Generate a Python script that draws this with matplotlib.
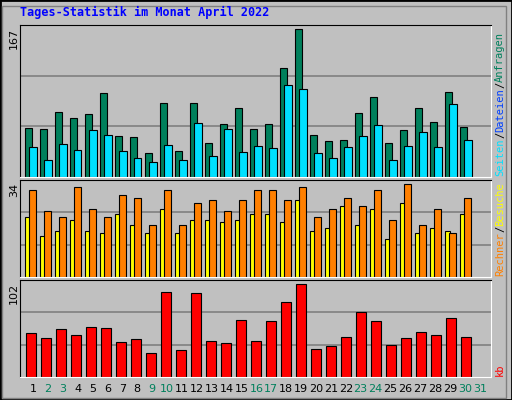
import matplotlib
matplotlib.use("Agg")
import matplotlib.pyplot as plt
from matplotlib.patches import Rectangle

W, H = 512, 400

days = list(range(1, 31))
weekend = [2, 3, 9, 10, 16, 17, 23, 24, 30, 31]
hits = [55, 54, 74, 67, 71, 95, 46, 45, 27, 84, 29, 84, 39, 60, 78,
        54, 60, 123, 167, 47, 41, 42, 72, 91, 38, 53, 78, 62, 96, 57]
pages = [34, 19, 37, 30, 53, 47, 29, 22, 17, 36, 19, 61, 24, 54, 28,
         35, 33, 104, 100, 27, 21, 34, 46, 59, 19, 35, 51, 34, 83, 42]
visits = [22, 15, 17, 21, 17, 16, 23, 19, 16, 25, 16, 21, 21, 20, 21,
          23, 23, 20, 28, 17, 18, 26, 19, 25, 14, 27, 16, 18, 17, 23]
sites = [32, 24, 22, 33, 25, 22, 30, 29, 19, 32, 19, 27, 28, 24, 28,
         32, 32, 28, 33, 22, 25, 29, 26, 32, 21, 34, 19, 25, 16, 29]
kbytes = [48, 43, 52, 46, 55, 54, 38, 41, 26, 93, 30, 92, 39, 37, 62,
          39, 61, 82, 102, 31, 34, 44, 71, 61, 35, 43, 49, 46, 64, 44]

C_HITS, C_PAGES, C_FILES = "#00805C", "#00E0FF", "#0040FF"
C_VISITS, C_SITES, C_KB = "#FFFF00", "#FF8000", "#FF0000"
BG = "#C0C0C0"

fig = plt.figure(figsize=(W / 100, H / 100), dpi=100, facecolor=BG)

# 3D-ish outer border
fig.patches.append(Rectangle((0, 0), 1, 1, transform=fig.transFigure,
                             fill=False, edgecolor="black", lw=2))
fig.patches.append(Rectangle((2 / W, 2 / H), 1 - 8 / W, 1 - 8 / H, transform=fig.transFigure,
                             fill=False, edgecolor="#808080", lw=1))


def panel(top, bottom, ymax):
    ax = fig.add_axes([20 / W, 1 - bottom / H, 471 / W, (bottom - top) / H])
    ax.set_facecolor(BG)
    ax.set_xlim(0, 31.4)
    ax.set_ylim(0, ymax)
    for f in (1 / 3, 2 / 3):
        ax.axhline(ymax * f, color="#808080", lw=1.2, zorder=0)
    ax.set_xticks([])
    ax.set_yticks([])
    for s in ("top", "left"):
        ax.spines[s].set_color("black")
    for s in ("bottom", "right"):
        ax.spines[s].set_color("white")
    return ax


x = [d - 1 for d in days]
kw = dict(edgecolor="black", linewidth=0.8, align="edge")

ax1 = panel(25, 177, 172)
ax1.bar([v + 0.33 for v in x], hits, 0.5, color=C_HITS, **kw)
ax1.bar([v + 0.63 for v in x], pages, 0.47, color=C_PAGES, **kw)

ax2 = panel(180, 277, 35.5)
ax2.bar([v + 0.35 for v in x], visits, 0.3, color=C_VISITS, **kw)
ax2.bar([v + 0.62 for v in x], sites, 0.47, color=C_SITES, **kw)

ax3 = panel(280, 377, 106)
ax3.bar([v + 0.42 for v in x], kbytes, 0.66, color=C_KB, **kw)

# day labels
for d in range(1, 32):
    fig.text((20 + (d - 1 + 0.87) * 15 * 0.993) / W, 1 - 389 / H, str(d),
             ha="center", va="center", fontsize=8,
             color=C_HITS if d in weekend else "black")

fig.text(20 / W, 1 - 12 / H, "Tages-Statistik im Monat April 2022",
         family="DejaVu Sans Mono", weight="bold", fontsize=8.5,
         color="#0000FF", ha="left", va="center")

for top, lab in ((28, str(max(hits))), (183, str(max(sites))), (283, str(max(kbytes)))):
    fig.text(14 / W, 1 - top / H, lab, rotation=90, ha="center", va="top", fontsize=8)

renderer = fig.canvas.get_renderer()


# right-side vertical legends, stacked from the bottom up
def vlegend(y_bottom, parts):
    y = y_bottom
    for txt, col in parts:
        t = fig.text(500 / W, 1 - y / H, txt, rotation=90, ha="center", va="bottom",
                     fontsize=7.5, color=col, family="DejaVu Sans Mono")
        y -= t.get_window_extent(renderer).height


vlegend(176, [("Seiten", C_PAGES), ("/", "black"), ("Dateien", C_FILES),
              ("/", "black"), ("Anfragen", C_HITS)])
vlegend(276, [("Rechner", C_SITES), ("/", "black"), ("Besuche", C_VISITS)])
vlegend(376, [("kb", C_KB)])

fig.savefig("out.png", dpi=100, facecolor=BG)
